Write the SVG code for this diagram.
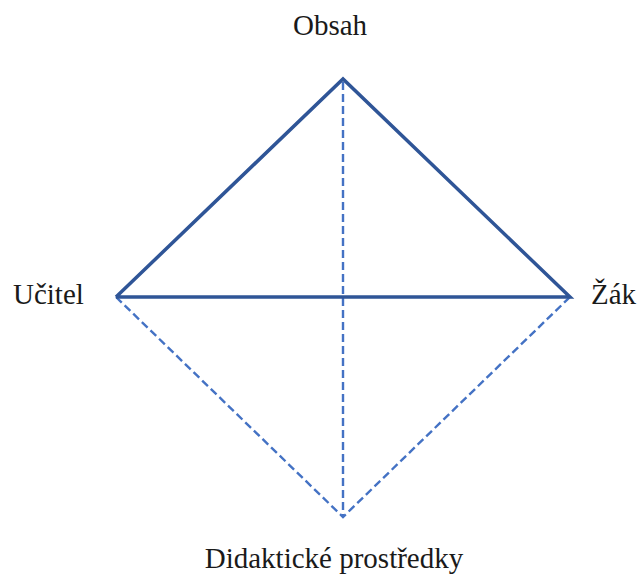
<svg xmlns="http://www.w3.org/2000/svg" width="639" height="574" viewBox="0 0 639 574">
<style>
.lbl{font-family:'Liberation Serif','Times New Roman',serif;font-size:29px;fill:#1a1a1a}
.solid{stroke:#2F5597;stroke-width:3.5;fill:none}
.dash{stroke:#4472C4;stroke-width:2.4;fill:none;stroke-dasharray:8 4}
</style>
<rect width="639" height="574" fill="#ffffff"/>
<g id="connectors">
<line class="dash" x1="343" y1="82" x2="343" y2="516"/>
<polyline class="dash" points="116,297 343,517 570,297"/>
<polyline class="solid" points="116,297 343,79 570,297 116,297"/>
</g>
<g id="obsah" class="lbl"><text x="330" y="35" text-anchor="middle">Obsah</text></g>
<g id="ucitel" class="lbl"><text x="13" y="304">Učitel</text></g>
<g id="zak" class="lbl"><text x="591" y="304">Žák</text></g>
<g id="prostredky" class="lbl"><text x="334" y="568" text-anchor="middle">Didaktické prostředky</text></g>
</svg>
